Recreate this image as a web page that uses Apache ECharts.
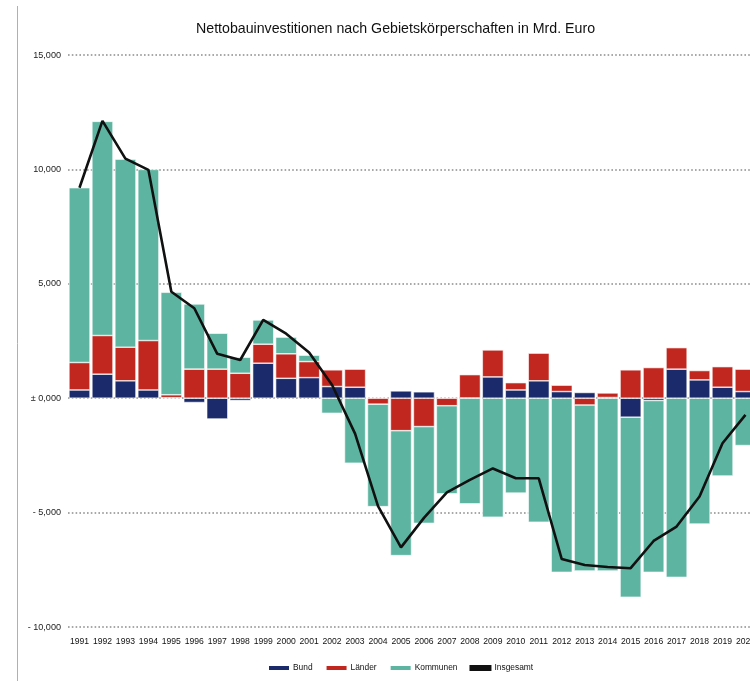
<!DOCTYPE html>
<html>
<head>
<meta charset="utf-8">
<script src="https://cdn.jsdelivr.net/npm/echarts@6/dist/echarts.min.js"></script>
<style>
html,body{margin:0;padding:0;overflow:hidden;background:#fff;width:750px;height:681px;}
#chart{width:758px;height:681px;}
</style>
</head>
<body>
<div id="chart"></div>
<script>
const years = ['1991','1992','1993','1994','1995','1996','1997','1998','1999','2000','2001','2002','2003','2004','2005','2006','2007','2008','2009','2010','2011','2012','2013','2014','2015','2016','2017','2018','2019','2020'];
const bund = [0.36,1.05,0.76,0.36,0.02,-0.19,-0.91,-0.10,1.53,0.87,0.90,0.51,0.48,0.02,0.32,0.28,0.01,0.01,0.93,0.36,0.76,0.29,0.25,0.03,-0.83,-0.10,1.27,0.80,0.48,0.29];
const laender = [1.20,1.69,1.47,2.16,0.13,1.27,1.27,1.09,0.83,1.07,0.70,0.73,0.79,-0.26,-1.42,-1.24,-0.33,1.02,1.18,0.32,1.21,0.28,-0.30,0.20,1.24,1.34,0.94,0.41,0.90,0.98];
const kommunen = [7.64,9.36,8.22,7.48,4.48,2.85,1.57,0.70,1.06,0.73,0.28,-0.66,-2.84,-4.48,-5.46,-4.23,-3.85,-4.62,-5.20,-4.15,-5.42,-7.61,-7.25,-7.55,-7.87,-7.51,-7.83,-5.50,-3.40,-2.07];
const insgesamt = [9.20,12.12,10.47,9.98,4.65,3.93,1.94,1.67,3.42,2.82,2.00,0.58,-1.55,-4.72,-6.52,-5.23,-4.12,-3.57,-3.07,-3.50,-3.50,-7.03,-7.29,-7.38,-7.43,-6.24,-5.61,-4.30,-1.97,-0.73];
const yTickValues = [-10, -5, 0, 5, 10, 15];
const yTickLabels = ['- 10,000', '- 5,000', '± 0,000', '5,000', '10,000', '15,000'];
const seriesNames = ['Bund', 'Länder', 'Kommunen', 'Insgesamt'];

const FONT = "'Liberation Sans', Arial, sans-serif";
const colors = ['#1b2a6b', '#c1271e', '#5db4a1', '#111111'];

const chart = echarts.init(document.getElementById('chart'), null, {renderer: 'canvas'});
const barCommon = {
  type: 'bar', stack: 'total', barCategoryGap: '8%',
  itemStyle: {borderColor: '#ffffff', borderWidth: 0.6},
  emphasis: {disabled: true}
};
chart.setOption({
  animation: false,
  color: colors,
  title: {
    text: 'Nettobauinvestitionen nach Gebietskörperschaften in Mrd. Euro',
    left: 191, top: 17,
    textStyle: {fontFamily: FONT, fontSize: 14.2, fontWeight: 'normal', color: '#111'}
  },
  legend: {
    left: 262, top: 659, itemGap: 12, itemWidth: 22, itemHeight: 6,
    textStyle: {fontFamily: FONT, fontSize: 8.4, color: '#111', padding: [0, 0, 0, -2]},
    data: [
      {name: seriesNames[0], icon: 'rect'},
      {name: seriesNames[1], icon: 'rect'},
      {name: seriesNames[2], icon: 'rect'},
      {name: seriesNames[3], icon: 'rect', itemStyle: {color: '#111'}}
    ]
  },
  graphic: [{
    type: 'line', shape: {x1: 17.5, y1: 6, x2: 17.5, y2: 681},
    style: {stroke: '#b0b0b0', lineWidth: 1}, silent: true
  }],
  grid: {left: 68, right: 0, top: 55, bottom: 54, containLabel: false},
  xAxis: {
    type: 'category', data: years,
    axisLine: {show: false}, axisTick: {show: false},
    axisLabel: {interval: 0, fontFamily: FONT, fontSize: 8.6, color: '#111', margin: 10}
  },
  yAxis: {
    type: 'value', min: -10, max: 15, interval: 5,
    axisLine: {show: false}, axisTick: {show: false},
    axisLabel: {
      fontFamily: FONT, fontSize: 9.1, color: '#222', margin: 7,
      formatter: function (v) {
        const i = yTickValues.indexOf(Math.round(v));
        return i >= 0 ? yTickLabels[i] : '';
      }
    },
    splitLine: {show: true, lineStyle: {color: '#8c8c8c', width: 1.6, type: [1.6, 2.2]}}
  },
  series: [
    Object.assign({name: seriesNames[0], data: bund}, barCommon),
    Object.assign({name: seriesNames[1], data: laender}, barCommon),
    Object.assign({name: seriesNames[2], data: kommunen}, barCommon),
    {
      name: seriesNames[3], type: 'line', data: insgesamt,
      showSymbol: false, symbol: 'none', z: 5,
      lineStyle: {color: '#111', width: 2.6},
      itemStyle: {color: '#111'},
      emphasis: {disabled: true}
    }
  ]
});
</script>
</body>
</html>
